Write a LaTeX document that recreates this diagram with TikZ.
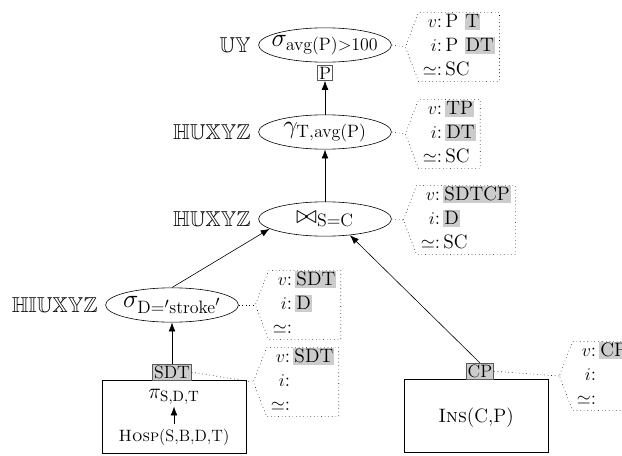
\documentclass[tikz,border=0pt]{standalone}
\usepackage{amsmath}
\usepackage{amssymb}
\usepackage{xcolor}
\usepackage{tikz}
\usetikzlibrary{arrows.meta, positioning, shapes.geometric, shapes.symbols}
\definecolor{Mark}{HTML}{CCCCCC}
\definecolor{Edge}{HTML}{5A5A5A}
\newcommand{\hl}[1]{\begingroup\setlength{\fboxsep}{0.7pt}\colorbox{Mark}{\rule[-1pt]{0pt}{9.5pt}#1}\endgroup}
\newcommand{\props}[3]{\begin{tabular}{@{}r@{\,}l@{}}$v$: & #1\\ $i$: & #2\\ $\simeq$: & #3\end{tabular}}

\begin{document}
\begin{tikzpicture}[
  x=0.67pt, y=-0.67pt,
  op/.style={ellipse, draw, minimum width=89pt, minimum height=23pt, inner xsep=-8pt, inner ysep=-3pt, font=\fontsize{17.28}{20}\selectfont},
  attrs/.style={draw=Edge, inner sep=1pt, anchor=south, font=\fontsize{12}{14}\selectfont},
  rel/.style={rectangle, draw, minimum width=96.5pt, minimum height=49pt},
  info/.style={signal, signal to=west, signal pointer angle=138, draw, dotted, inner xsep=3pt, inner ysep=-1pt, anchor=west, font=\fontsize{13}{16}\selectfont},
  tag/.style={anchor=east, font=\fontsize{14.4}{17}\selectfont},
  arrow/.style={-{Latex[length=6pt, width=4.5pt]}},
  link/.style={dotted}
]
\clip (0,0) rectangle (622,455);

% operators
\node[op] (sel) at (325,45) {$\sigma_{\mathrm{avg(P)}>100}$};
\node[op] (grp) at (325,132) {$\gamma_{\mathrm{T,avg(P)}}$};
\node[op] (join) at (325,219) {$\bowtie_{\mathrm{S=C}}$};
\node[op] (filt) at (172,305) {$\sigma_{\mathrm{D}={}'\mathrm{stroke}'}$};

\node[tag] (lsel) at (256,45) {$\mathbb{UY}$};
\node[tag] (lgrp) at (256,132) {$\mathbb{HUXYZ}$};
\node[tag] (ljoin) at (256,219) {$\mathbb{HUXYZ}$};
\node[tag] (lfilt) at (103,305) {$\mathbb{HIUXYZ}$};

% relations
\node[rel] (hospbox) at (174,417) {};
\node[font=\fontsize{14.4}{17}\selectfont, inner sep=1pt] (proj) at (174,397) {$\pi_{\mathrm{S,D,T}}$};
\node[font=\fontsize{11}{13}\selectfont] (hosp) at (174,437) {\textsc{Hosp}(S,B,D,T)};
\node[rel] (insbox) at (476,416) {};
\node[font=\fontsize{13}{15}\selectfont] (ins) at (476,418) {\textsc{Ins}(C,P)};

% attribute tags
\node[attrs, anchor=north, fill=white] (pout) at (325,65) {P};
\node[attrs, fill=Mark] (sdt) at (172,380.5) {SDT};
\node[attrs, fill=Mark] (cp) at (480,379.5) {CP};

% annotations
\node[info] (isel) at (405,47) {\props{P \hl{T}}{P \hl{DT}}{SC}};
\node[info] (igrp) at (405,134) {\props{\hl{TP}}{\hl{DT}}{SC}};
\node[info] (ijoin) at (403,220) {\props{\hl{SDTCP}}{\hl{D}}{SC}};
\node[info] (ifilt) at (255,305) {\props{\hl{SDT}}{\hl{D}}{}};
\node[info] (isdt) at (253,382) {\props{\hl{SDT}}{}{}};
\node[info] (icp) at (559,376) {\props{\hl{CP}}{}{}};

\draw[arrow] (grp) -- (pout);
\draw[arrow] (join) -- (grp);
\draw[arrow] (filt.north) -- (join.190);
\draw[arrow] (cp.north) -- (join.-33);
\draw[arrow] (sdt) -- (filt);
\draw[arrow] (hosp) -- (proj);

\draw[link] (sel.east) -- (isel.west);
\draw[link] (grp.east) -- (igrp.west);
\draw[link] (join.east) -- (ijoin.west);
\draw[link] (filt.east) -- (ifilt.west);
\draw[link] (sdt.east) -- (isdt.west);
\draw[link] (cp.east) -- (icp.west);
\end{tikzpicture}
\end{document}
